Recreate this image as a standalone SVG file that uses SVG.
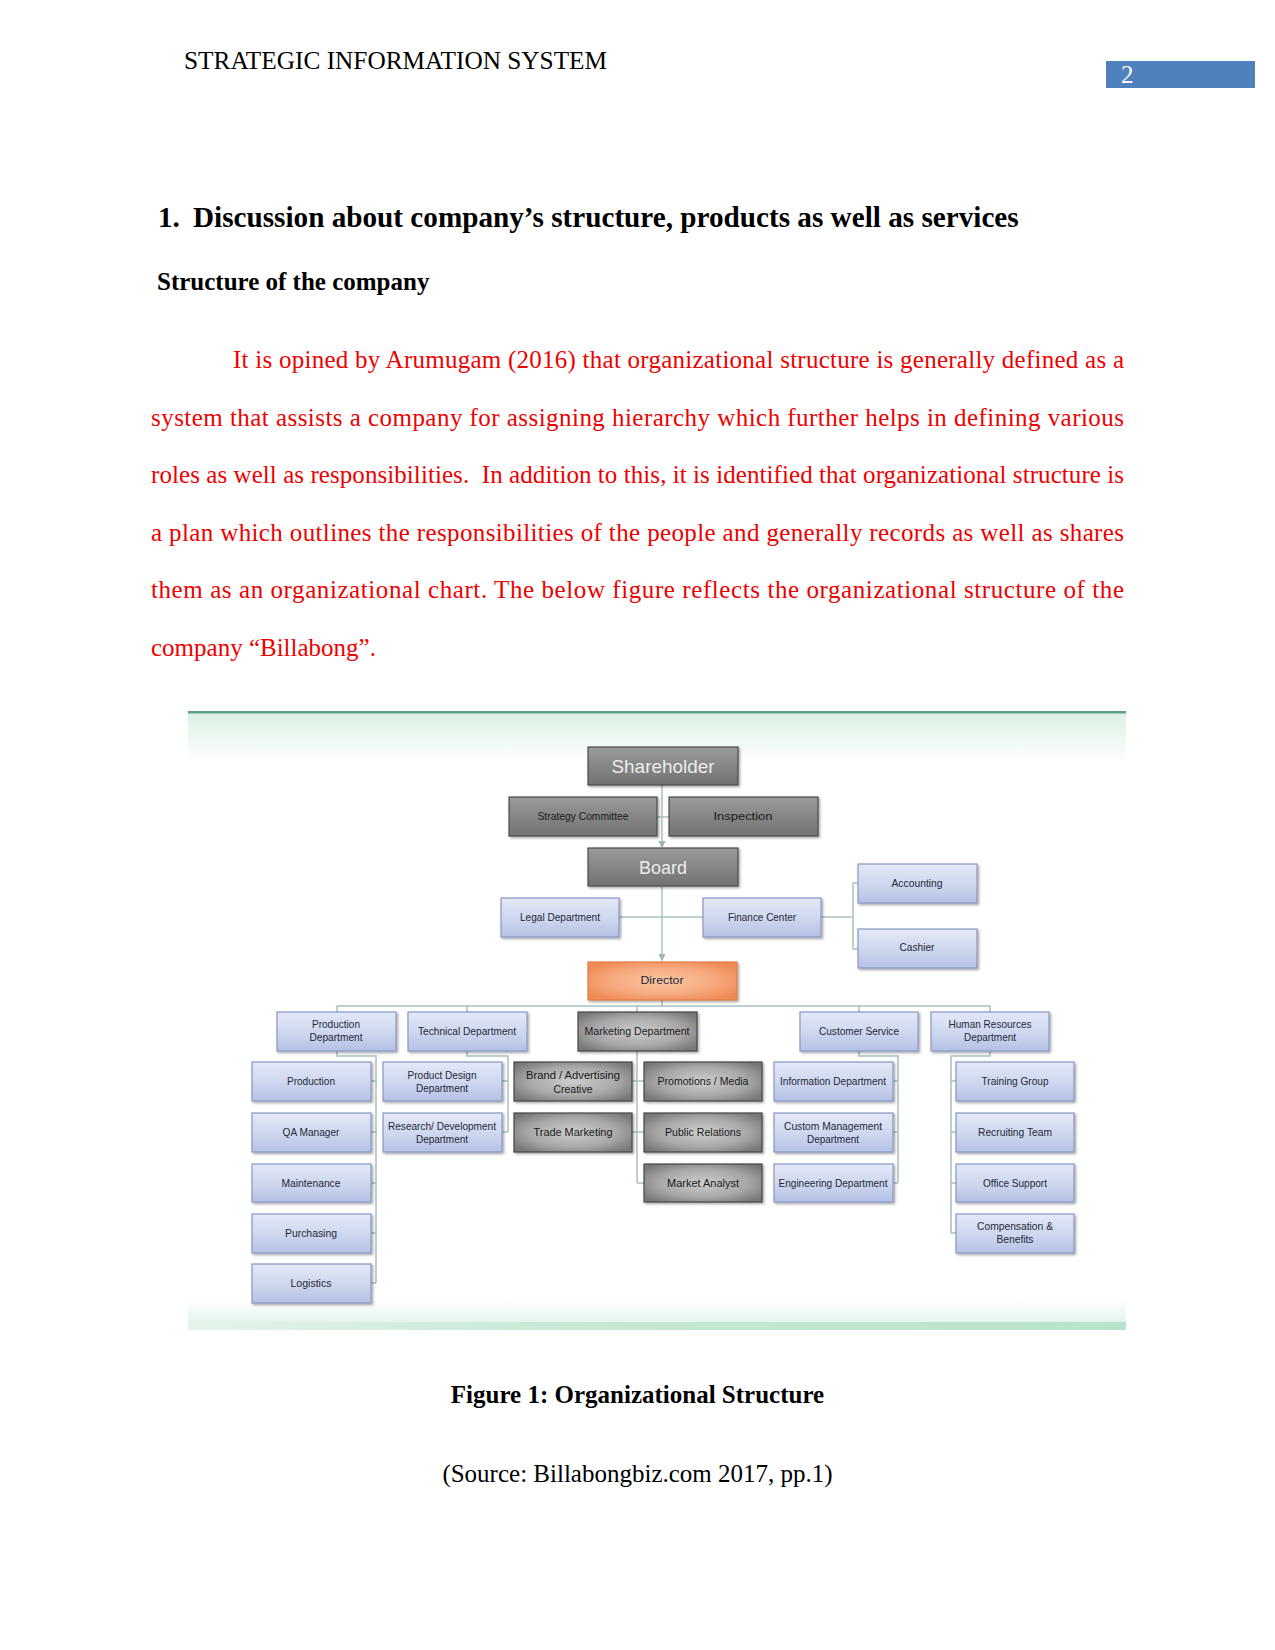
<svg xmlns="http://www.w3.org/2000/svg" width="1275" height="1650" viewBox="0 0 1275 1650">
<defs>
<style>
.serif{font-family:"Liberation Serif","Times New Roman",serif;}
.hdr{font-size:25.3px;fill:#000;}
.red{font-size:25px;fill:#ee0000;}
.bold{font-weight:bold;fill:#000;}
.t{font-family:"Liberation Sans",Arial,sans-serif;font-size:11.5px;fill:#252838;text-anchor:middle;}
.tm{font-family:"Liberation Sans",Arial,sans-serif;font-size:11.5px;fill:#1a1a1a;text-anchor:middle;}
.blue{fill:url(#gBlue);stroke:#8797c4;stroke-width:1.2;}
.dark{fill:url(#gDark);stroke:#4c4c4c;stroke-width:1.2;}
.mkt{fill:url(#gMkt);stroke:#474747;stroke-width:1.2;}
.dir{fill:url(#gDir);stroke:#e27c48;stroke-width:1.2;}
.con{fill:none;stroke:#a8c1bd;stroke-width:1.5;}
</style>
<linearGradient id="gBlue" x1="0" y1="0" x2="0" y2="1">
<stop offset="0" stop-color="#e4e9f7"/><stop offset="0.55" stop-color="#cdd6ef"/><stop offset="1" stop-color="#b4c1e5"/>
</linearGradient>
<linearGradient id="gDark" x1="0" y1="0" x2="0" y2="1">
<stop offset="0" stop-color="#9a9a9a"/><stop offset="1" stop-color="#727272"/>
</linearGradient>
<radialGradient id="gMkt" cx="0.5" cy="0.5" r="0.62">
<stop offset="0" stop-color="#cdcdcd"/><stop offset="0.6" stop-color="#a8a8a8"/><stop offset="1" stop-color="#787878"/>
</radialGradient>
<radialGradient id="gDir" cx="0.5" cy="0.5" r="0.6">
<stop offset="0" stop-color="#fbc7a6"/><stop offset="0.6" stop-color="#f6a87c"/><stop offset="1" stop-color="#ef8a55"/>
</radialGradient>
<linearGradient id="gTop" x1="0" y1="0" x2="0" y2="1">
<stop offset="0" stop-color="#dcf2e3"/><stop offset="1" stop-color="#ffffff"/>
</linearGradient>
<linearGradient id="gBot" x1="0" y1="0" x2="0" y2="1">
<stop offset="0" stop-color="#ffffff"/><stop offset="1" stop-color="#e2f4ea"/>
</linearGradient>
<linearGradient id="gBotL" x1="0" y1="0" x2="1" y2="0">
<stop offset="0" stop-color="#e4f3ea"/><stop offset="0.4" stop-color="#c7e9d6"/><stop offset="1" stop-color="#b7e3cc"/>
</linearGradient>
<filter id="sh" x="-10%" y="-10%" width="130%" height="140%">
<feDropShadow dx="1.5" dy="1.5" stdDeviation="1" flood-color="#000" flood-opacity="0.35"/>
</filter>
<marker id="arr" viewBox="0 0 6 6" refX="5" refY="3" markerWidth="5" markerHeight="5" orient="auto">
<path d="M0,0 L6,3 L0,6 z" fill="#9fb7b3"/>
</marker>
</defs>
<rect x="0" y="0" width="1275" height="1650" fill="#ffffff"/>

<!-- Header -->
<g id="header">
<text class="serif hdr" x="184" y="69">STRATEGIC INFORMATION SYSTEM</text>
<rect x="1106" y="61" width="149" height="27" fill="#4f81bd"/>
<text class="serif" x="1121" y="83" font-size="25" fill="#ffffff">2</text>
</g>

<!-- Headings -->
<g id="headings">
<text class="serif bold" x="158" y="227" font-size="29.2">1.</text>
<text class="serif bold" x="193" y="227" font-size="29.2">Discussion about company’s structure, products as well as services</text>
<text class="serif bold" x="157" y="290" font-size="25">Structure of the company</text>
</g>

<!-- Paragraph -->
<g id="paragraph">
<text class="serif red" x="233" y="368" textLength="891" lengthAdjust="spacing">It is opined by Arumugam (2016) that organizational structure is generally defined as a</text>
<text class="serif red" x="151" y="426" textLength="973" lengthAdjust="spacing">system that assists a company for assigning hierarchy which further helps in defining various</text>
<text class="serif red" x="151" y="483" textLength="973" lengthAdjust="spacing" xml:space="preserve">roles as well as responsibilities.  In addition to this, it is identified that organizational structure is</text>
<text class="serif red" x="151" y="541" textLength="973" lengthAdjust="spacing">a plan which outlines the responsibilities of the people and generally records as well as shares</text>
<text class="serif red" x="151" y="598" textLength="973" lengthAdjust="spacing">them as an organizational chart. The below figure reflects the organizational structure of the</text>
<text class="serif red" x="151" y="656">company “Billabong”.</text>
</g>

<!-- Chart frame -->
<g id="frame">
<rect x="188" y="713" width="938" height="50" fill="url(#gTop)"/>
<rect x="188" y="711" width="938" height="2.5" fill="#62a085"/>
<rect x="188" y="1300" width="938" height="23" fill="url(#gBot)"/>
<rect x="188" y="1322" width="938" height="8" fill="url(#gBotL)"/>
</g>

<!-- Connectors -->
<g id="connectors">
<line class="con" x1="662" y1="785" x2="662" y2="847" marker-end="url(#arr)"/>
<line class="con" x1="657" y1="817" x2="669" y2="817"/>
<line class="con" x1="662" y1="886" x2="662" y2="960" marker-end="url(#arr)"/>
<line class="con" x1="619" y1="917" x2="703" y2="917"/>
<path class="con" d="M821,917 H853 M858,883 H853 V949 H858"/>
<path class="con" d="M662,1000 V1006 M337,1012 V1006 H990 V1012 M467,1006 V1012 M637,1006 V1012 M859,1006 V1012"/>
<path class="con" d="M337,1051 V1056 H376 V1283 M371,1081 H376 M371,1132 H376 M371,1183 H376 M371,1233 H376 M371,1283 H376"/>
<path class="con" d="M467,1051 V1056 H508 V1132 M502,1081 H508 M502,1132 H508"/>
<path class="con" d="M637,1051 V1183 M632,1081 H644 M632,1132 H644 M637,1183 H644"/>
<path class="con" d="M859,1051 V1056 H898 V1183 M893,1081 H898 M893,1132 H898 M893,1183 H898"/>
<path class="con" d="M990,1051 V1056 H951 V1233 M951,1081 H956 M951,1132 H956 M951,1183 H956 M951,1233 H956"/>
</g>

<!-- Nodes -->
<g id="n-shareholder"><rect class="dark" x="588" y="747" width="150" height="38" filter="url(#sh)"/><text x="663" y="773" font-family="Liberation Sans,Arial,sans-serif" font-size="19" fill="#ececec" text-anchor="middle" textLength="103" lengthAdjust="spacingAndGlyphs">Shareholder</text></g>
<g id="n-strategy"><rect class="dark" x="509" y="797" width="148" height="39" filter="url(#sh)"/><text class="tm" x="583" y="820" fill="#2e2e2e" textLength="91" lengthAdjust="spacingAndGlyphs">Strategy Committee</text></g>
<g id="n-inspection"><rect class="dark" x="669" y="797" width="149" height="39" filter="url(#sh)"/><text class="tm" x="743" y="820" font-size="12.5" fill="#2e2e2e" textLength="59" lengthAdjust="spacingAndGlyphs">Inspection</text></g>
<g id="n-board"><rect class="dark" x="588" y="848" width="150" height="38" filter="url(#sh)"/><text x="663" y="874" font-family="Liberation Sans,Arial,sans-serif" font-size="18" fill="#ececec" text-anchor="middle" textLength="48" lengthAdjust="spacingAndGlyphs">Board</text></g>
<g id="n-legal"><rect class="blue" x="501" y="898" width="118" height="39" filter="url(#sh)"/><text class="t" x="560" y="921" textLength="80" lengthAdjust="spacingAndGlyphs">Legal Department</text></g>
<g id="n-finance"><rect class="blue" x="703" y="898" width="118" height="39" filter="url(#sh)"/><text class="t" x="762" y="921" textLength="68" lengthAdjust="spacingAndGlyphs">Finance Center</text></g>
<g id="n-accounting"><rect class="blue" x="858" y="864" width="119" height="39" filter="url(#sh)"/><text class="t" x="917" y="887" textLength="51" lengthAdjust="spacingAndGlyphs">Accounting</text></g>
<g id="n-cashier"><rect class="blue" x="858" y="929" width="119" height="39" filter="url(#sh)"/><text class="t" x="917" y="951" textLength="35" lengthAdjust="spacingAndGlyphs">Cashier</text></g>
<g id="n-director"><rect class="dir" x="588" y="962" width="149" height="38" filter="url(#sh)"/><text class="t" x="662" y="984" font-size="12.5" fill="#6e4a3c" textLength="43" lengthAdjust="spacingAndGlyphs">Director</text></g>

<g id="n-proddept"><rect class="blue" x="277" y="1012" width="119" height="39" filter="url(#sh)"/><text class="t" x="336" y="1028" textLength="48" lengthAdjust="spacingAndGlyphs">Production</text><text class="t" x="336" y="1041" textLength="53" lengthAdjust="spacingAndGlyphs">Department</text></g>
<g id="n-techdept"><rect class="blue" x="408" y="1012" width="119" height="39" filter="url(#sh)"/><text class="t" x="467" y="1035" textLength="98" lengthAdjust="spacingAndGlyphs">Technical Department</text></g>
<g id="n-mktdept"><rect class="mkt" x="578" y="1012" width="119" height="39" filter="url(#sh)"/><text class="tm" x="637" y="1035" textLength="105" lengthAdjust="spacingAndGlyphs">Marketing Department</text></g>
<g id="n-custservice"><rect class="blue" x="800" y="1012" width="118" height="39" filter="url(#sh)"/><text class="t" x="859" y="1035" textLength="80" lengthAdjust="spacingAndGlyphs">Customer Service</text></g>
<g id="n-hrdept"><rect class="blue" x="931" y="1012" width="118" height="39" filter="url(#sh)"/><text class="t" x="990" y="1028" textLength="83" lengthAdjust="spacingAndGlyphs">Human Resources</text><text class="t" x="990" y="1041" textLength="52" lengthAdjust="spacingAndGlyphs">Department</text></g>

<g id="n-production"><rect class="blue" x="252" y="1062" width="119" height="39" filter="url(#sh)"/><text class="t" x="311" y="1085" textLength="48" lengthAdjust="spacingAndGlyphs">Production</text></g>
<g id="n-qa"><rect class="blue" x="252" y="1113" width="119" height="39" filter="url(#sh)"/><text class="t" x="311" y="1136" textLength="57" lengthAdjust="spacingAndGlyphs">QA Manager</text></g>
<g id="n-maintenance"><rect class="blue" x="252" y="1164" width="119" height="38" filter="url(#sh)"/><text class="t" x="311" y="1187" textLength="59" lengthAdjust="spacingAndGlyphs">Maintenance</text></g>
<g id="n-purchasing"><rect class="blue" x="252" y="1214" width="119" height="39" filter="url(#sh)"/><text class="t" x="311" y="1237" textLength="52" lengthAdjust="spacingAndGlyphs">Purchasing</text></g>
<g id="n-logistics"><rect class="blue" x="252" y="1264" width="119" height="39" filter="url(#sh)"/><text class="t" x="311" y="1287" textLength="41" lengthAdjust="spacingAndGlyphs">Logistics</text></g>

<g id="n-proddesign"><rect class="blue" x="383" y="1062" width="119" height="39" filter="url(#sh)"/><text class="t" x="442" y="1079" textLength="69" lengthAdjust="spacingAndGlyphs">Product Design</text><text class="t" x="442" y="1092" textLength="52" lengthAdjust="spacingAndGlyphs">Department</text></g>
<g id="n-research"><rect class="blue" x="383" y="1113" width="119" height="39" filter="url(#sh)"/><text class="t" x="442" y="1130" textLength="108" lengthAdjust="spacingAndGlyphs">Research/ Development</text><text class="t" x="442" y="1143" textLength="52" lengthAdjust="spacingAndGlyphs">Department</text></g>

<g id="n-brand"><rect class="mkt" x="514" y="1062" width="118" height="39" filter="url(#sh)"/><text class="tm" x="573" y="1079" textLength="94" lengthAdjust="spacingAndGlyphs">Brand / Advertising</text><text class="tm" x="573" y="1093" textLength="39" lengthAdjust="spacingAndGlyphs">Creative</text></g>
<g id="n-trade"><rect class="mkt" x="514" y="1113" width="118" height="39" filter="url(#sh)"/><text class="tm" x="573" y="1136" textLength="79" lengthAdjust="spacingAndGlyphs">Trade Marketing</text></g>
<g id="n-promotions"><rect class="mkt" x="644" y="1062" width="118" height="39" filter="url(#sh)"/><text class="tm" x="703" y="1085" textLength="91" lengthAdjust="spacingAndGlyphs">Promotions / Media</text></g>
<g id="n-public"><rect class="mkt" x="644" y="1113" width="118" height="39" filter="url(#sh)"/><text class="tm" x="703" y="1136" textLength="76" lengthAdjust="spacingAndGlyphs">Public Relations</text></g>
<g id="n-analyst"><rect class="mkt" x="644" y="1164" width="118" height="38" filter="url(#sh)"/><text class="tm" x="703" y="1187" textLength="72" lengthAdjust="spacingAndGlyphs">Market Analyst</text></g>

<g id="n-info"><rect class="blue" x="774" y="1062" width="119" height="39" filter="url(#sh)"/><text class="t" x="833" y="1085" textLength="106" lengthAdjust="spacingAndGlyphs">Information Department</text></g>
<g id="n-custom"><rect class="blue" x="774" y="1113" width="119" height="39" filter="url(#sh)"/><text class="t" x="833" y="1130" textLength="98" lengthAdjust="spacingAndGlyphs">Custom Management</text><text class="t" x="833" y="1143" textLength="52" lengthAdjust="spacingAndGlyphs">Department</text></g>
<g id="n-engineering"><rect class="blue" x="774" y="1164" width="119" height="38" filter="url(#sh)"/><text class="t" x="833" y="1187" textLength="109" lengthAdjust="spacingAndGlyphs">Engineering Department</text></g>

<g id="n-training"><rect class="blue" x="956" y="1062" width="118" height="39" filter="url(#sh)"/><text class="t" x="1015" y="1085" textLength="67" lengthAdjust="spacingAndGlyphs">Training Group</text></g>
<g id="n-recruiting"><rect class="blue" x="956" y="1113" width="118" height="39" filter="url(#sh)"/><text class="t" x="1015" y="1136" textLength="74" lengthAdjust="spacingAndGlyphs">Recruiting Team</text></g>
<g id="n-office"><rect class="blue" x="956" y="1164" width="118" height="38" filter="url(#sh)"/><text class="t" x="1015" y="1187" textLength="64" lengthAdjust="spacingAndGlyphs">Office Support</text></g>
<g id="n-compensation"><rect class="blue" x="956" y="1214" width="118" height="39" filter="url(#sh)"/><text class="t" x="1015" y="1230" textLength="76" lengthAdjust="spacingAndGlyphs">Compensation &amp;</text><text class="t" x="1015" y="1243" textLength="37" lengthAdjust="spacingAndGlyphs">Benefits</text></g>

<!-- Caption -->
<g id="caption">
<text class="serif bold" x="637.5" y="1403" font-size="25" text-anchor="middle">Figure 1: Organizational Structure</text>
<text class="serif" x="637.5" y="1482" font-size="25" fill="#000" text-anchor="middle">(Source: Billabongbiz.com 2017, pp.1)</text>
</g>
</svg>
